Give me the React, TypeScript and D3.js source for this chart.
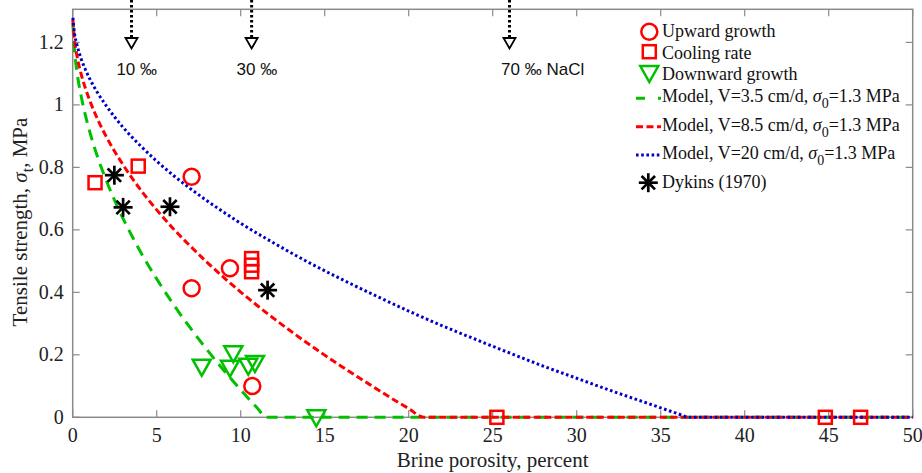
import React from "react";
import * as d3 from "d3";

// ---------- data ----------
const xTicks = [0, 5, 10, 15, 20, 25, 30, 35, 40, 45, 50];
const yTicks = [0, 0.2, 0.4, 0.6, 0.8, 1, 1.2];
const yTickLabels = ["0", "0.2", "0.4", "0.6", "0.8", "1", "1.2"];

// Model curves
const greenPorosity = [0.01, 0.1, 0.25, 0.5, 0.75, 1, 1.5, 2, 2.5, 3, 3.5, 4, 5, 6, 7, 8, 9, 10, 10.5, 11, 11.5, 50];
const greenStrength = [1.262, 1.179, 1.108, 1.029, 0.968, 0.917, 0.83, 0.758, 0.694, 0.636, 0.583, 0.533, 0.443, 0.361, 0.286, 0.216, 0.15, 0.088, 0.058, 0.029, 0, 0];

const redPorosity = [0.01, 0.1, 0.25, 0.5, 0.75, 1, 1.5, 2, 3, 4, 5, 6, 7, 8, 9, 10, 11, 12, 13, 14, 15, 16, 17, 18, 19, 20, 20.9, 50];
const redStrength = [1.272, 1.21, 1.158, 1.099, 1.054, 1.016, 0.952, 0.898, 0.808, 0.731, 0.664, 0.603, 0.548, 0.496, 0.447, 0.401, 0.357, 0.315, 0.275, 0.236, 0.199, 0.163, 0.128, 0.094, 0.06, 0.028, 0, 0];

const bluePorosity = [0.01, 0.1, 0.25, 0.5, 0.75, 1, 1.5, 2, 3, 4, 5, 6, 7, 8, 9, 10, 12, 14, 16, 18, 20, 22, 24, 26, 28, 30, 32, 34, 36, 36.7, 50];
const blueStrength = [1.279, 1.232, 1.193, 1.148, 1.114, 1.085, 1.037, 0.997, 0.928, 0.871, 0.82, 0.774, 0.732, 0.693, 0.656, 0.621, 0.557, 0.497, 0.442, 0.39, 0.34, 0.293, 0.249, 0.206, 0.164, 0.125, 0.086, 0.049, 0.012, 0, 0];

// Measurements
const upwardPorosity = [7.08, 7.08, 9.36, 10.69];
const upwardStrength = [0.77, 0.413, 0.477, 0.1];

const coolingPorosity = [1.33, 3.9, 10.65, 10.65, 10.65, 25.25, 44.8, 46.9];
const coolingStrength = [0.751, 0.804, 0.508, 0.487, 0.466, 0, 0, 0];

const downwardPorosity = [7.68, 9.56, 9.36, 10.45, 10.85, 14.5];
const downwardStrength = [0.162, 0.205, 0.159, 0.165, 0.174, 0];

const dykinsPorosity = [2.48, 3.0, 5.79, 11.6];
const dykinsStrength = [0.775, 0.672, 0.674, 0.407];

// Salinity annotations
const salinityPorosity = [3.5, 10.65, 26.0];
const salinityLabelPorosity = [2.6, 9.75, 25.5];
const salinityLabels = ["10 ‰", "30 ‰", "70 ‰ NaCl"];

// ---------- layout ----------
const W = 922;
const H = 473;
const L = 72.7;
const R = 912.7;
const T = 9.3;
const B = 417.3;

const SERIF = "'Liberation Serif', 'Times New Roman', serif";
const SANS = "'Liberation Sans', Arial, sans-serif";
const AXIS = "#8a8a8a";
const RED = "#ff0000";
const GREEN = "#00c000";
const BLUE = "#0000cc";

const x = d3.scaleLinear().domain([0, 50]).range([L, R]);
const y = d3.scaleLinear().domain([0, 1.306]).range([B, T]);

const line = d3
  .line<[number, number]>()
  .x((d) => x(d[0]))
  .y((d) => y(d[1]))
  .curve(d3.curveMonotoneX);

const zip = (a: number[], b: number[]) => a.map((v, i) => [v, b[i]] as [number, number]);

const triPath = (cx: number, cy: number) =>
  `M${cx - 9},${cy - 7}L${cx + 9},${cy - 7}L${cx},${cy + 9}Z`;

const Star = ({ cx, cy }: { cx: number; cy: number }) => {
  const r = 9.5;
  const d = r * Math.SQRT1_2;
  return (
    <g stroke="#000" strokeWidth={2.7}>
      <line x1={cx - r} y1={cy} x2={cx + r} y2={cy} />
      <line x1={cx} y1={cy - r} x2={cx} y2={cy + r} />
      <line x1={cx - d} y1={cy - d} x2={cx + d} y2={cy + d} />
      <line x1={cx - d} y1={cy + d} x2={cx + d} y2={cy - d} />
    </g>
  );
};

const GREEN_DASH = "11,7";
const RED_DASH = "7,3.5";
const BLUE_DASH = "2.6,2.6";
const CIRCLE_R = 8;
const SQ = 13;

export default function App() {
  const legendX = 649.3;
  const textX = 662;
  return (
    <svg
      width={W}
      height={H}
      style={{ position: "absolute", left: 0, top: 0, background: "#fff" }}
    >
      <rect x={0} y={0} width={W} height={H} fill="#fff" />
      {/* axes box */}
      <rect x={L} y={T} width={R - L} height={B - T} fill="none" stroke={AXIS} strokeWidth={1.5} />
      {xTicks.map((t) => (
        <g key={"xt" + t}>
          <line x1={x(t)} x2={x(t)} y1={B} y2={B - 7} stroke={AXIS} strokeWidth={1.2} />
          <line x1={x(t)} x2={x(t)} y1={T} y2={T + 7} stroke={AXIS} strokeWidth={1.2} />
          <text x={x(t)} y={B + 25} textAnchor="middle" fontFamily={SERIF} fontSize={20} fill="#222">
            {t}
          </text>
        </g>
      ))}
      {yTicks.map((t, i) => (
        <g key={"yt" + t}>
          <line x1={L} x2={L + 7} y1={y(t)} y2={y(t)} stroke={AXIS} strokeWidth={1.2} />
          <line x1={R} x2={R - 7} y1={y(t)} y2={y(t)} stroke={AXIS} strokeWidth={1.2} />
          <text x={L - 9} y={y(t) + 6.5} textAnchor="end" fontFamily={SERIF} fontSize={20} fill="#222">
            {yTickLabels[i]}
          </text>
        </g>
      ))}
      {/* axis labels */}
      <text x={(L + R) / 2} y={467} textAnchor="middle" fontFamily={SERIF} fontSize={21} fill="#222">
        Brine porosity, percent
      </text>
      <text
        transform={`translate(27,222) rotate(-90)`}
        textAnchor="middle"
        fontFamily={SERIF}
        fontSize={21}
        fill="#222"
      >
        Tensile strength, <tspan fontStyle="italic">σ</tspan>
        <tspan dy={6} fontSize={16}>t</tspan>
        <tspan dy={-6}>, MPa</tspan>
      </text>

      {/* model curves */}
      <path d={line(zip(greenPorosity, greenStrength)) || ""} fill="none" stroke={GREEN} strokeWidth={3} strokeDasharray={GREEN_DASH} />
      <path d={line(zip(redPorosity, redStrength)) || ""} fill="none" stroke={RED} strokeWidth={3} strokeDasharray={RED_DASH} />
      <path d={line(zip(bluePorosity, blueStrength)) || ""} fill="none" stroke={BLUE} strokeWidth={3} strokeDasharray={BLUE_DASH} />

      {/* markers */}
      {upwardPorosity.map((v, i) => (
        <circle key={"u" + i} cx={x(v)} cy={y(upwardStrength[i])} r={CIRCLE_R} fill="none" stroke={RED} strokeWidth={2.5} />
      ))}
      {coolingPorosity.map((v, i) => (
        <rect key={"c" + i} x={x(v) - SQ / 2} y={y(coolingStrength[i]) - SQ / 2} width={SQ} height={SQ} fill="none" stroke={RED} strokeWidth={2.5} />
      ))}
      {downwardPorosity.map((v, i) => (
        <path key={"d" + i} d={triPath(x(v), y(downwardStrength[i]))} fill="none" stroke={GREEN} strokeWidth={2.5} />
      ))}
      {dykinsPorosity.map((v, i) => (
        <Star key={"k" + i} cx={x(v)} cy={y(dykinsStrength[i])} />
      ))}

      {/* salinity arrows */}
      {salinityPorosity.map((v, i) => (
        <g key={"s" + i}>
          <line x1={x(v)} x2={x(v)} y1={0} y2={37} stroke="#000" strokeWidth={3} strokeDasharray="2.5,2.5" />
          <path
            d={`M${x(v) - 6},${38}L${x(v) + 6},${38}L${x(v)},${48.5}Z`}
            fill="#fff"
            stroke="#000"
            strokeWidth={1.8}
          />
          <text x={x(salinityLabelPorosity[i])} y={75} fontFamily={SANS} fontSize={17} fill="#111">
            {salinityLabels[i]}
          </text>
        </g>
      ))}

      {/* legend */}
      <g fontFamily={SERIF} fontSize={18} fill="#111">
        <circle cx={legendX} cy={31.7} r={CIRCLE_R} fill="none" stroke={RED} strokeWidth={2.5} />
        <text x={textX} y={37}>Upward growth</text>
        <rect x={legendX - SQ / 2} y={51.7 - SQ / 2} width={SQ} height={SQ} fill="none" stroke={RED} strokeWidth={2.5} />
        <text x={textX} y={58.5}>Cooling rate</text>
        <path d={triPath(legendX, 73)} fill="none" stroke={GREEN} strokeWidth={2.5} />
        <text x={textX} y={80}>Downward growth</text>

        <line x1={636} x2={661} y1={98.3} y2={98.3} stroke={GREEN} strokeWidth={3} strokeDasharray="9,13" />
        <text x={textX} y={102}>
          Model, V=3.5 cm/d, <tspan fontStyle="italic">σ</tspan>
          <tspan dy={6} fontSize={14}>0</tspan>
          <tspan dy={-6}>=1.3 MPa</tspan>
        </text>
        <line x1={636} x2={661} y1={126.7} y2={126.7} stroke={RED} strokeWidth={3} strokeDasharray={RED_DASH} />
        <text x={textX} y={130.5}>
          Model, V=8.5 cm/d, <tspan fontStyle="italic">σ</tspan>
          <tspan dy={6} fontSize={14}>0</tspan>
          <tspan dy={-6}>=1.3 MPa</tspan>
        </text>
        <line x1={636} x2={661} y1={155} y2={155} stroke={BLUE} strokeWidth={3} strokeDasharray={BLUE_DASH} />
        <text x={textX} y={158.8}>
          Model, V=20 cm/d, <tspan fontStyle="italic">σ</tspan>
          <tspan dy={6} fontSize={14}>0</tspan>
          <tspan dy={-6}>=1.3 MPa</tspan>
        </text>
        <Star cx={legendX - 1} cy={182.7} />
        <text x={textX} y={188}>Dykins (1970)</text>
      </g>
    </svg>
  );
}
